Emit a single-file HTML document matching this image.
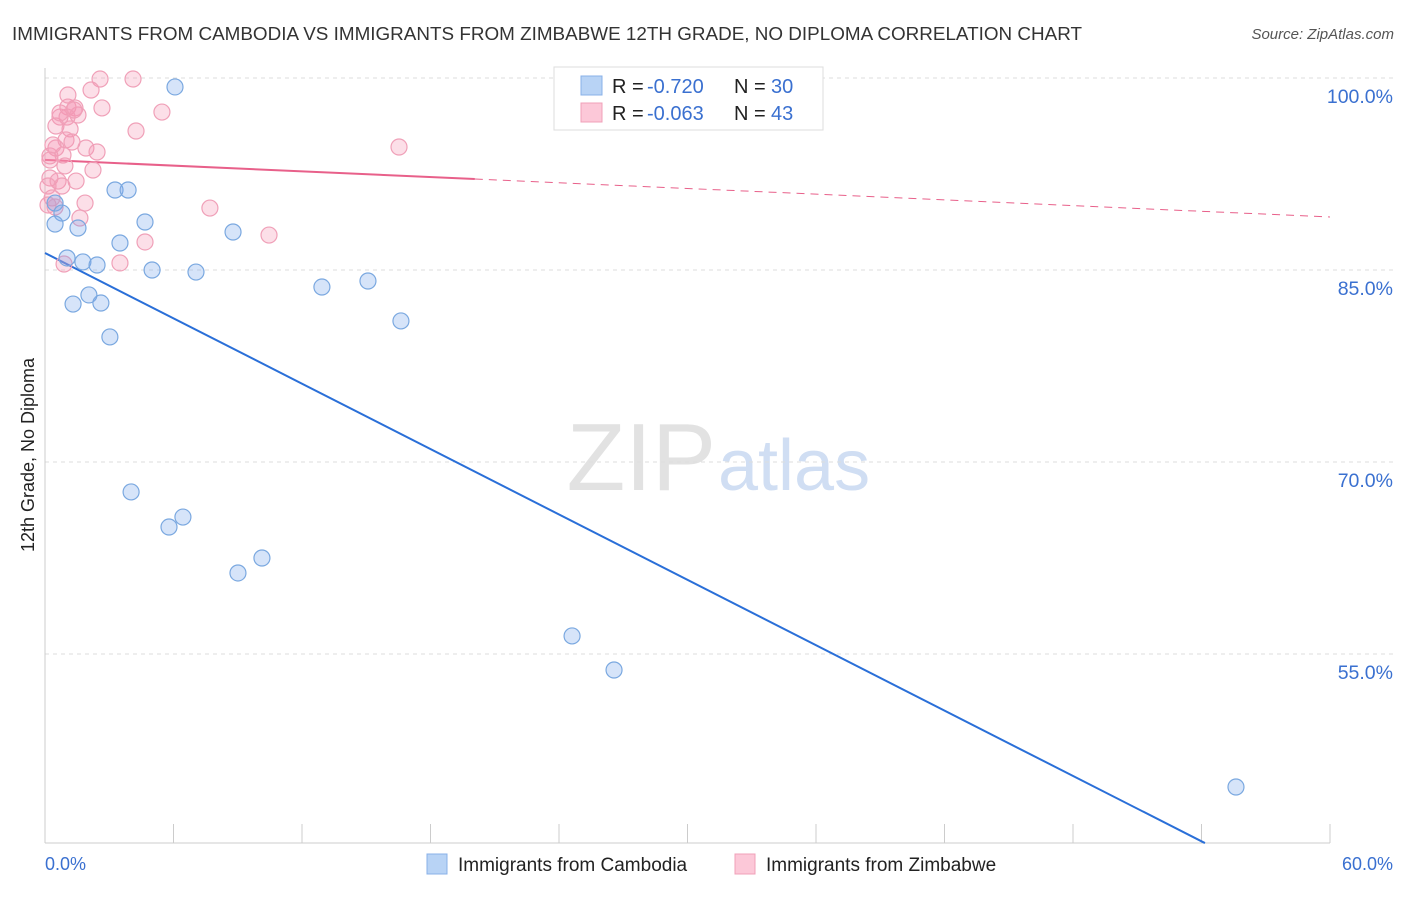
<!DOCTYPE html>
<html><head><meta charset="utf-8"><style>
body{margin:0;background:#fff;font-family:"Liberation Sans",sans-serif}
svg text{font-family:"Liberation Sans",sans-serif}
</style></head><body>
<svg id="chart" width="1406" height="892" xmlns="http://www.w3.org/2000/svg">
<text x="12" y="40" font-size="18" fill="#333" textLength="1070" lengthAdjust="spacingAndGlyphs">IMMIGRANTS FROM CAMBODIA VS IMMIGRANTS FROM ZIMBABWE 12TH GRADE, NO DIPLOMA CORRELATION CHART</text>
<text x="1394" y="39" font-size="15" fill="#555" font-style="italic" text-anchor="end">Source: ZipAtlas.com</text>
<text x="716" y="490" font-size="96" fill="#e2e2e2" text-anchor="end" font-family="Liberation Serif">ZIP</text>
<text x="718" y="490" font-size="72" fill="#d0def3">atlas</text>
<g id="grid"></g><g id="axes"></g><g id="lines"></g><g id="points"></g>
<text x="34" y="455" font-size="18" fill="#222" text-anchor="middle" transform="rotate(-90 34 455)">12th Grade, No Diploma</text>
<g>
<rect x="554" y="67" width="269" height="63" fill="#fff" stroke="#ddd"/>
<rect x="581" y="76" width="21" height="19" fill="#b8d3f5" stroke="#88b0e8"/>
<rect x="581" y="103" width="21" height="19" fill="#fcc8d8" stroke="#f0a0b8"/>
<text x="612" y="93" font-size="20" fill="#222">R =</text>
<text x="647" y="93" font-size="20" fill="#3a70d0">-0.720</text>
<text x="734" y="93" font-size="20" fill="#222">N =</text>
<text x="771" y="93" font-size="20" fill="#3a70d0">30</text>
<text x="612" y="120" font-size="20" fill="#222">R =</text>
<text x="647" y="120" font-size="20" fill="#3a70d0">-0.063</text>
<text x="734" y="120" font-size="20" fill="#222">N =</text>
<text x="771" y="120" font-size="20" fill="#3a70d0">43</text>
</g>
<g>
<rect x="427" y="854" width="20" height="20" fill="#b8d3f5" stroke="#88b0e8"/>
<text x="458" y="871" font-size="19" fill="#222">Immigrants from Cambodia</text>
<rect x="735" y="854" width="20" height="20" fill="#fcc8d8" stroke="#f0a0b8"/>
<text x="766" y="871" font-size="19" fill="#222">Immigrants from Zimbabwe</text>
</g>
</svg>
<script>
const yTicks=[100,85,70,55];
const xTickLabels=["0.0%","60.0%"];
const blueX=[6.07,0.47,0.79,0.47,1.54,3.27,3.88,4.67,3.50,8.78,1.03,1.77,2.43,5.00,7.05,2.05,1.31,2.61,12.93,15.08,3.03,16.62,4.02,6.44,5.79,9.01,10.13,24.61,26.57,55.61];
const blueY=[99.30,90.23,89.45,88.59,88.28,91.25,91.25,88.75,87.11,87.97,85.94,85.63,85.39,85.0,84.84,83.05,82.34,82.42,83.67,84.14,79.77,81.02,67.66,65.70,64.92,61.33,62.5,56.41,53.75,44.61];
const pinkX=[2.57,4.11,2.15,1.07,1.40,2.66,5.46,0.70,1.03,1.54,0.51,1.17,4.25,0.98,1.26,0.51,1.91,2.43,16.53,0.23,0.84,2.24,0.93,0.23,0.61,1.45,0.14,0.79,0.33,1.87,7.70,0.14,0.47,1.63,10.46,4.67,3.50,0.89,0.23,1.07,1.35,0.70,0.37];
const pinkY=[99.92,99.92,99.06,97.73,97.66,97.66,97.34,96.95,96.95,97.11,96.25,96.02,95.86,95.16,95.0,94.53,94.53,94.22,94.61,93.91,93.98,92.81,93.13,92.19,91.95,91.95,91.56,91.56,90.63,90.23,89.84,90.08,89.92,89.06,87.73,87.19,85.55,85.47,93.59,98.67,97.5,97.27,94.77];
const blueTrend=[86.33,40.23];
const pinkTrend=[93.6,89.14];
const NS="http://www.w3.org/2000/svg";
const xs=v=>45+v/60*1285, ys=v=>78+(100-v)*12.8;
function mk(parent,tag,attrs){const e=document.createElementNS(NS,tag);for(const k in attrs)e.setAttribute(k,attrs[k]);document.getElementById(parent).appendChild(e);return e;}
yTicks.forEach(t=>{
 const l=mk('grid','line',{x1:45,x2:1393,y1:ys(t),y2:ys(t),stroke:'#ddd','stroke-dasharray':'4 4'});
 
 
 const tx=mk('grid','text',{x:1393,y:ys(t)+25,'font-size':19.5,fill:'#3a70d0','text-anchor':'end'});
 tx.textContent=t.toFixed(1)+'%';
 
 
});
const ax=mk('axes','line',{x1:45,x2:1330,y1:843,y2:843,stroke:'#ccc'});


const ay=mk('axes','line',{x1:45,x2:45,y1:68,y2:843,stroke:'#ccc'});


for(let i=0;i<=10;i++){const t=mk('axes','line',{x1:xs(i*6),x2:xs(i*6),y1:824,y2:843,stroke:'#ccc'});
 
 }
[[0,xTickLabels[0],'start',45],[60,xTickLabels[1],'end',1393]].forEach(a=>{const t=mk('axes','text',{x:a[3],y:870,'font-size':18,fill:'#3a70d0','text-anchor':a[2]});t.textContent=a[1];
 
 });
const bx2=54.16;
const bl=mk('lines','line',{x1:xs(0),y1:ys(blueTrend[0]),x2:xs(bx2),y2:ys(blueTrend[1]),stroke:'#2a6fd8','stroke-width':2});


const pm=pinkTrend[0]+(pinkTrend[1]-pinkTrend[0])*(20.07/60);
const pl=mk('lines','line',{x1:xs(0),y1:ys(pinkTrend[0]),x2:xs(20.07),y2:ys(pm),stroke:'#e8608a','stroke-width':2});


const pd=mk('lines','line',{x1:xs(20.07),y1:ys(pm),x2:xs(60),y2:ys(pinkTrend[1]),stroke:'#e8608a','stroke-width':1,'stroke-dasharray':'8 6'});


pinkX.forEach((x,i)=>{const c=mk('points','circle',{cx:xs(x),cy:ys(pinkY[i]),r:8,fill:'rgba(245,150,180,0.3)',stroke:'#f0a0b8','stroke-width':1.2});
 
 });
blueX.forEach((x,i)=>{const c=mk('points','circle',{cx:xs(x),cy:ys(blueY[i]),r:8,fill:'rgba(120,165,235,0.3)',stroke:'#7aa8e0','stroke-width':1.2});
 
 });
</script>
</body></html>
